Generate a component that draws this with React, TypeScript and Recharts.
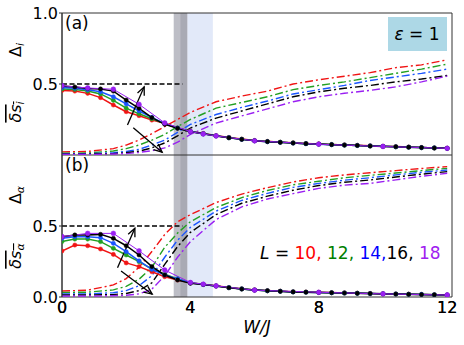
import React from "react";
import { LineChart, Line, XAxis, YAxis, ReferenceArea, ReferenceLine } from "recharts";

// x grids (W/J)
const W_FINE = [0, 0.4, 0.8, 1.2, 1.6, 2.0, 2.4, 2.8, 3.2, 3.6, 4.0, 4.4, 4.8, 5.2, 5.6, 6.0, 6.4, 6.8, 7.2, 7.6, 8.0, 8.4, 8.8, 9.2, 9.6, 10.0, 10.4, 10.8, 11.2, 11.6, 12.0];
const W_L18 = [0, 0.8, 1.6, 2.4, 3.2, 4.0, 4.4, 4.8, 6, 8, 10, 12];
const W_GAP = [0, 0.8, 1.6, 2.0, 2.4, 2.8, 3.2, 3.6, 4.0, 4.8, 5.6, 6.4, 7.2, 8.0, 8.8, 9.6, 10.4, 11.2, 12];
const X_TICKS = [0, 4, 8, 12];

const SIZES = ["10", "12", "14", "16", "18"];
const COLORS = ["#f01414", "#22a022", "#1a55ff", "#000000", "#9a1ff2"];
const TEXT_COLORS = ["#ff0000", "#008000", "#0000ff", "#000000", "#a020f0"];

// (a) site-resolved: mean fluctuation (solid, markers), L = 10..16 on W_FINE, L = 18 on W_L18
const dsI10 = [0.455, 0.45, 0.434, 0.404, 0.352, 0.305, 0.277, 0.246, 0.223, 0.19, 0.168, 0.152, 0.137, 0.124, 0.112, 0.102, 0.096, 0.09, 0.086, 0.081, 0.078, 0.074, 0.071, 0.068, 0.065, 0.062, 0.059, 0.056, 0.053, 0.05, 0.048];
const dsI12 = [0.465, 0.462, 0.45, 0.43, 0.385, 0.33, 0.29, 0.255, 0.222, 0.19, 0.167, 0.15, 0.135, 0.122, 0.111, 0.101, 0.095, 0.09, 0.085, 0.08, 0.077, 0.074, 0.07, 0.067, 0.064, 0.061, 0.058, 0.055, 0.052, 0.05, 0.047];
const dsI14 = [0.475, 0.47, 0.46, 0.445, 0.41, 0.36, 0.31, 0.265, 0.22, 0.19, 0.165, 0.149, 0.135, 0.122, 0.11, 0.1, 0.094, 0.089, 0.084, 0.08, 0.076, 0.073, 0.07, 0.067, 0.064, 0.061, 0.058, 0.055, 0.052, 0.05, 0.047];
const dsI16 = [0.486, 0.479, 0.469, 0.465, 0.45, 0.387, 0.329, 0.263, 0.216, 0.188, 0.164, 0.149, 0.134, 0.121, 0.11, 0.1, 0.094, 0.089, 0.084, 0.08, 0.077, 0.073, 0.07, 0.067, 0.063, 0.06, 0.058, 0.055, 0.052, 0.049, 0.047];
const dsI18 = [0.488, 0.472, 0.463, 0.357, 0.226, 0.165, 0.148, 0.134, 0.1, 0.076, 0.06, 0.047];

// (a) Delta_i (dash-dot) on W_GAP
const gapI10 = [0.022, 0.025, 0.045, 0.07, 0.105, 0.15, 0.2, 0.25, 0.3, 0.375, 0.415, 0.45, 0.5, 0.53, 0.555, 0.58, 0.615, 0.635, 0.67];
const gapI12 = [0.012, 0.014, 0.028, 0.045, 0.07, 0.105, 0.145, 0.2, 0.25, 0.33, 0.37, 0.41, 0.46, 0.49, 0.515, 0.545, 0.575, 0.605, 0.64];
const gapI14 = [0.008, 0.009, 0.016, 0.025, 0.04, 0.07, 0.105, 0.16, 0.215, 0.285, 0.335, 0.38, 0.43, 0.46, 0.49, 0.525, 0.55, 0.575, 0.605];
const gapI16 = [0.005, 0.006, 0.01, 0.016, 0.027, 0.05, 0.085, 0.135, 0.19, 0.26, 0.31, 0.36, 0.41, 0.445, 0.47, 0.49, 0.515, 0.535, 0.56];
const gapI18 = [0.003, 0.004, 0.007, 0.01, 0.018, 0.03, 0.05, 0.09, 0.145, 0.225, 0.275, 0.325, 0.375, 0.41, 0.435, 0.455, 0.48, 0.515, 0.555];

// (b) orbital-resolved: mean fluctuation (solid, markers)
const dsA10 = [0.324, 0.366, 0.361, 0.338, 0.3, 0.24, 0.214, 0.178, 0.143, 0.12, 0.1, 0.089, 0.079, 0.067, 0.058, 0.05, 0.045, 0.041, 0.037, 0.035, 0.033, 0.031, 0.029, 0.027, 0.025, 0.023, 0.021, 0.02, 0.018, 0.016, 0.014];
const dsA12 = [0.39, 0.408, 0.408, 0.39, 0.343, 0.296, 0.249, 0.197, 0.16, 0.127, 0.1, 0.088, 0.078, 0.066, 0.057, 0.049, 0.044, 0.04, 0.036, 0.034, 0.032, 0.03, 0.028, 0.026, 0.024, 0.023, 0.021, 0.019, 0.018, 0.016, 0.014];
const dsA14 = [0.413, 0.425, 0.425, 0.418, 0.378, 0.319, 0.255, 0.195, 0.155, 0.127, 0.1, 0.088, 0.078, 0.066, 0.057, 0.049, 0.044, 0.04, 0.036, 0.034, 0.032, 0.03, 0.028, 0.026, 0.024, 0.023, 0.021, 0.019, 0.018, 0.016, 0.014];
const dsA16 = [0.425, 0.437, 0.437, 0.441, 0.413, 0.361, 0.296, 0.214, 0.155, 0.12, 0.096, 0.088, 0.077, 0.065, 0.056, 0.049, 0.044, 0.04, 0.036, 0.034, 0.032, 0.03, 0.028, 0.026, 0.024, 0.022, 0.021, 0.019, 0.017, 0.016, 0.014];
const dsA18 = [0.425, 0.448, 0.448, 0.325, 0.19, 0.102, 0.09, 0.078, 0.048, 0.033, 0.022, 0.014];

// (b) Delta_alpha (dash-dot) on W_GAP
const gapA10 = [0.042, 0.048, 0.085, 0.13, 0.21, 0.32, 0.44, 0.53, 0.58, 0.665, 0.725, 0.77, 0.81, 0.84, 0.86, 0.875, 0.89, 0.905, 0.918];
const gapA12 = [0.032, 0.034, 0.05, 0.075, 0.125, 0.21, 0.35, 0.45, 0.53, 0.63, 0.7, 0.75, 0.79, 0.815, 0.84, 0.857, 0.873, 0.89, 0.906];
const gapA14 = [0.022, 0.022, 0.03, 0.045, 0.08, 0.15, 0.28, 0.4, 0.49, 0.605, 0.68, 0.73, 0.772, 0.8, 0.823, 0.84, 0.86, 0.878, 0.894];
const gapA16 = [0.014, 0.014, 0.017, 0.025, 0.045, 0.1, 0.23, 0.355, 0.455, 0.58, 0.66, 0.71, 0.752, 0.785, 0.808, 0.824, 0.845, 0.865, 0.883];
const gapA18 = [0.007, 0.007, 0.009, 0.012, 0.022, 0.055, 0.15, 0.28, 0.39, 0.545, 0.635, 0.69, 0.728, 0.765, 0.788, 0.8, 0.825, 0.85, 0.871];

// shaded windows and guide lines
const GRAY_WIDE = [3.48, 3.91];
const GRAY_NARROW = [3.69, 3.91];
const BLUE_BAND = [3.91, 4.7];
const HALF_LINE_END = 3.75;
const ARROWS_A = [
  { from: [2.04, 0.211], to: [2.56, 0.48] },
  { from: [2.22, 0.192], to: [3.12, 0.02] },
];
const ARROWS_B = [
  { from: [1.73, 0.206], to: [2.27, 0.484] },
  { from: [1.84, 0.183], to: [2.81, 0.02] },
];

const X_MAX = 12.15;
const FONT = "DejaVu Sans, sans-serif";

const toRows = (ws: number[], ys: number[]) => ws.map((w, i) => ({ w, v: ys[i] }));

const DS_A = [dsI10, dsI12, dsI14, dsI16];
const GAP_A = [gapI10, gapI12, gapI14, gapI16, gapI18];
const DS_B = [dsA10, dsA12, dsA14, dsA16];
const GAP_B = [gapA10, gapA12, gapA14, gapA16, gapA18];

function ArrowShape(props: any) {
  const { x1, y1, x2, y2 } = props;
  const a = Math.atan2(y2 - y1, x2 - x1);
  const len = 9;
  const spread = 0.42;
  const p1 = [x2 - len * Math.cos(a - spread), y2 - len * Math.sin(a - spread)];
  const p2 = [x2 - len * Math.cos(a + spread), y2 - len * Math.sin(a + spread)];
  return (
    <g>
      <line x1={x1} y1={y1} x2={x2} y2={y2} stroke="#000" strokeWidth={1.3} />
      <polyline points={`${p1[0]},${p1[1]} ${x2},${y2} ${p2[0]},${p2[1]}`} fill="none" stroke="#000" strokeWidth={1.3} />
    </g>
  );
}

function xAxisFor(showTicks: boolean) {
  return showTicks ? (
    <XAxis
      type="number"
      dataKey="w"
      domain={[0, X_MAX]}
      ticks={X_TICKS}
      allowDataOverflow
      height={48}
      axisLine={false}
      tickLine={false}
      tick={{ fill: "#000", fontSize: 16, fontFamily: FONT }}
      tickSize={3}
      tickMargin={2}
    />
  ) : (
    <XAxis type="number" dataKey="w" domain={[0, X_MAX]} hide allowDataOverflow />
  );
}

// bands drawn in their own chart underneath, so the curves sit on top of them
function BandLayer({ height, margin, showTicks }: { height: number; margin: any; showTicks: boolean }) {
  return (
    <LineChart width={464} height={height} margin={margin} data={toRows(W_GAP, gapI10)}>
      {xAxisFor(showTicks)}
      <YAxis type="number" domain={[0, 1]} width={62} tick={false} axisLine={false} tickLine={false} />
      <Line dataKey="v" stroke="none" dot={false} isAnimationActive={false} />
      <ReferenceArea x1={GRAY_WIDE[0]} x2={GRAY_WIDE[1]} y1={0} y2={1} fill="#bdbec6" fillOpacity={1} stroke="none" />
      <ReferenceArea x1={GRAY_NARROW[0]} x2={GRAY_NARROW[1]} y1={0} y2={1} fill="#a9aab4" fillOpacity={1} stroke="none" />
      <ReferenceArea x1={BLUE_BAND[0]} x2={BLUE_BAND[1]} y1={0} y2={1} fill="#e2e9f9" fillOpacity={1} stroke="none" />
    </LineChart>
  );
}

function CurveLayer({
  height, margin, showTicks, ds, ds18, gaps, arrows, yTicks,
}: {
  height: number; margin: any; showTicks: boolean; ds: number[][]; ds18: number[]; gaps: number[][]; arrows: typeof ARROWS_A; yTicks: number[];
}) {
  return (
    <LineChart width={464} height={height} margin={margin}>
      {xAxisFor(showTicks)}
      <YAxis
        type="number"
        domain={[0, 1]}
        ticks={yTicks}
        width={62}
        tickFormatter={(v: number) => v.toFixed(1)}
        tick={{ fill: "#000", fontSize: 16, fontFamily: FONT }}
        tickSize={3}
        tickMargin={1}
        stroke="#333"
        allowDataOverflow
      />
      <ReferenceArea x1={0} x2={X_MAX} y1={0} y2={1} fill="none" stroke="#333" strokeWidth={1} />
      <ReferenceLine
        segment={[{ x: 0, y: 0.5 }, { x: HALF_LINE_END, y: 0.5 }]}
        stroke="#000"
        strokeWidth={1.3}
        strokeDasharray="5 2.5"
      />
      {gaps.map((g, i) => (
        <Line
          key={"gap" + i}
          data={toRows(W_GAP, g)}
          dataKey="v"
          stroke={COLORS[i]}
          strokeWidth={1.4}
          strokeDasharray="8 3 2 3"
          dot={false}
          isAnimationActive={false}
        />
      ))}
      {ds.map((d, i) => (
        <Line
          key={"ds" + i}
          data={toRows(W_FINE, d)}
          dataKey="v"
          stroke={COLORS[i]}
          strokeWidth={1.5}
          dot={{ r: 2.1, fill: COLORS[i], stroke: COLORS[i], strokeWidth: 0.5 }}
          isAnimationActive={false}
        />
      ))}
      <Line
        data={toRows(W_L18, ds18)}
        dataKey="v"
        stroke={COLORS[4]}
        strokeWidth={1}
        dot={{ r: 2.4, fill: COLORS[4], stroke: COLORS[4], strokeWidth: 0.5 }}
        isAnimationActive={false}
      />
      {arrows.map((a, i) => (
        <ReferenceLine
          key={"arr" + i}
          segment={[{ x: a.from[0], y: a.from[1] }, { x: a.to[0], y: a.to[1] }]}
          shape={ArrowShape}
          ifOverflow="visible"
        />
      ))}
    </LineChart>
  );
}

function RotLabel({ x, y, children }: { x: number; y: number; children: React.ReactNode }) {
  return (
    <text transform={`translate(${x},${y}) rotate(-90)`} textAnchor="middle" fontSize={16} fontFamily={FONT} fill="#000">
      {children}
    </text>
  );
}

const layer: React.CSSProperties = { position: "absolute", left: 0 };

export default function App() {
  const mTop = { top: 13, right: 12, bottom: 0, left: 0 };
  const mBot = { top: 0, right: 12, bottom: 0, left: 0 };
  return (
    <div style={{ position: "absolute", left: 0, top: 0, width: 464, height: 345, background: "#fff", fontFamily: FONT }}>
      <div style={{ ...layer, top: 0 }}>
        <BandLayer height={155} margin={mTop} showTicks={false} />
      </div>
      <div style={{ ...layer, top: 0 }}>
        <CurveLayer height={155} margin={mTop} showTicks={false} ds={DS_A} ds18={dsI18} gaps={GAP_A} arrows={ARROWS_A} yTicks={[0, 0.5, 1]} />
      </div>
      <div style={{ ...layer, top: 155 }}>
        <BandLayer height={190} margin={mBot} showTicks={true} />
      </div>
      <div style={{ ...layer, top: 155 }}>
        <CurveLayer height={190} margin={mBot} showTicks={true} ds={DS_B} ds18={dsA18} gaps={GAP_B} arrows={ARROWS_B} yTicks={[0, 0.5]} />
      </div>
      <svg width={464} height={345} style={{ position: "absolute", left: 0, top: 0, pointerEvents: "none" }}>
        <RotLabel x={21} y={50}>
          Δ<tspan fontStyle="italic" fontSize={11} dy={3}>i</tspan>
        </RotLabel>
        <RotLabel x={21} y={112}>
          <tspan style={{ textDecoration: "overline" }}>
            <tspan fontStyle="italic">δs</tspan>
            <tspan fontStyle="italic" fontSize={11} dy={3}>i</tspan>
          </tspan>
        </RotLabel>
        <RotLabel x={21} y={195}>
          Δ<tspan fontStyle="italic" fontSize={11} dy={3}>α</tspan>
        </RotLabel>
        <RotLabel x={21} y={256}>
          <tspan style={{ textDecoration: "overline" }}>
            <tspan fontStyle="italic">δs</tspan>
            <tspan fontStyle="italic" fontSize={11} dy={3}>α</tspan>
          </tspan>
        </RotLabel>
        <text x={65} y={29} fontSize={17} fontFamily={FONT}>(a)</text>
        <text x={65} y={171} fontSize={17} fontFamily={FONT}>(b)</text>
        <rect x={388} y={17} width={59} height={34} fill="#add8e6" />
        <text x={417} y={39.5} textAnchor="middle" fontSize={17} fontFamily={FONT}>
          <tspan fontStyle="italic">ε</tspan> = 1
        </text>
        <text x={260} y={259} fontSize={17} fontFamily={FONT}>
          <tspan fontStyle="italic">L</tspan> ={" "}
          <tspan fill={TEXT_COLORS[0]}>{SIZES[0]},</tspan>{" "}
          <tspan fill={TEXT_COLORS[1]}>{SIZES[1]},</tspan>{" "}
          <tspan fill={TEXT_COLORS[2]}>{SIZES[2]},</tspan>
          <tspan fill={TEXT_COLORS[3]}>{SIZES[3]},</tspan>{" "}
          <tspan fill={TEXT_COLORS[4]}>{SIZES[4]}</tspan>
        </text>
        <text x={257} y={333} textAnchor="middle" fontSize={17} fontStyle="italic" fontFamily={FONT}>W/J</text>
      </svg>
    </div>
  );
}
